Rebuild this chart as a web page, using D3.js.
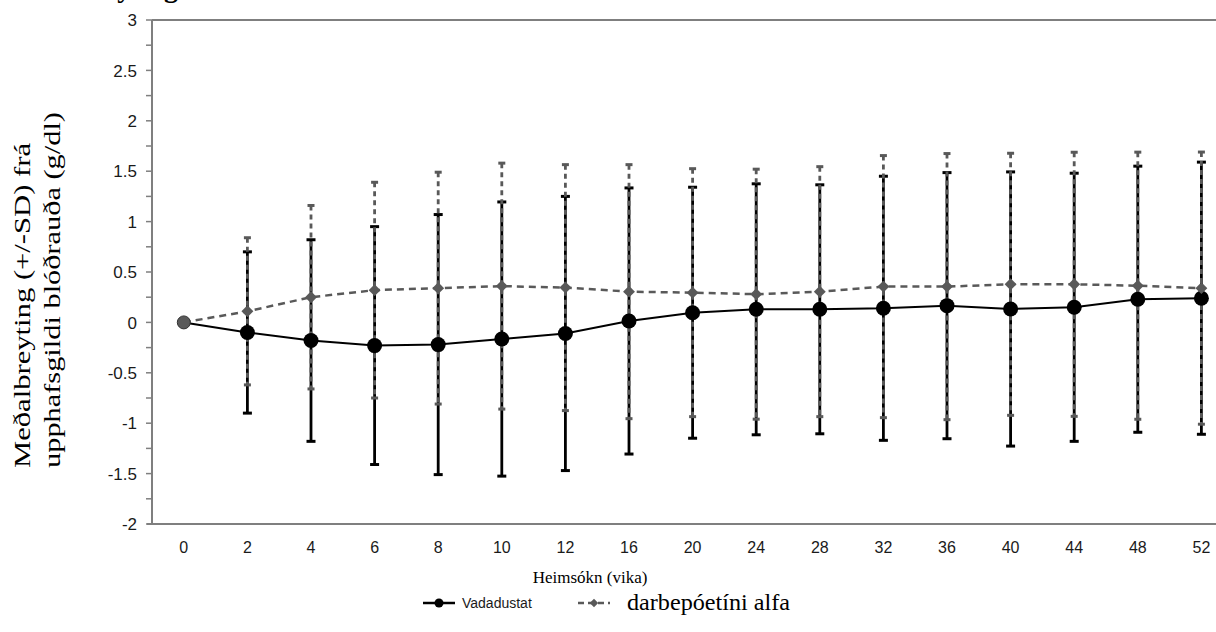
<!DOCTYPE html>
<html>
<head>
<meta charset="utf-8">
<script src="https://cdn.jsdelivr.net/npm/d3@7"></script>
<style>
  html, body { margin: 0; padding: 0; background: #fff; overflow: hidden; }
  svg { display: block; }
</style>
</head>
<body>
<svg id="chart" width="1216" height="632"></svg>
<script>
// visits (weeks)
const weeks = ['0', '2', '4', '6', '8', '10', '12', '16', '20', '24', '28', '32', '36', '40', '44', '48', '52']

// mean change and SD, vadadustat
const vadaMean = [0, -0.10, -0.18, -0.23, -0.22, -0.165, -0.11, 0.014, 0.096, 0.13, 0.13, 0.14, 0.166, 0.133, 0.15, 0.23, 0.24]
const vadaSD   = [0, 0.80, 1.00, 1.18, 1.29, 1.36, 1.36, 1.32, 1.245, 1.245, 1.235, 1.31, 1.32, 1.36, 1.33, 1.32, 1.35]

// mean change and SD, darbepoetin alfa
const darbMean = [0, 0.11, 0.25, 0.32, 0.34, 0.36, 0.345, 0.305, 0.295, 0.28, 0.305, 0.355, 0.355, 0.378, 0.378, 0.364, 0.34]
const darbSD   = [0, 0.73, 0.91, 1.07, 1.15, 1.22, 1.22, 1.26, 1.23, 1.24, 1.24, 1.30, 1.32, 1.30, 1.31, 1.325, 1.35]

const yTicks = [-2, -1.5, -1, -0.5, 0, 0.5, 1, 1.5, 2, 2.5, 3]
const yMinor = d3.range(-1.75, 3, 0.5)

const BLACK = '#000'
const GREY = '#595959'
const AXIS = '#7f7f7f'
const SERIF = 'Liberation Serif, Times New Roman, serif'
const SANS = 'Liberation Sans, Arial, sans-serif'

const svg = d3.select('#chart')

const x = d3.scaleBand()
  .domain(weeks)
  .range([152, 152 + 17 * 63.6])
const cx = (w) => x(w) + x.bandwidth() / 2

const y = d3.scaleLinear()
  .domain([-2, 3])
  .range([524, 20])

const rows = (mean, sd) => weeks.map((w, i) => ({ w: w, m: mean[i], sd: sd[i] }))
const vada = rows(vadaMean, vadaSD)
const darb = rows(darbMean, darbSD)

// title, cut off by the top edge as in the source picture
svg.append('text')
  .attr('x', 178).attr('y', -3)
  .attr('text-anchor', 'end')
  .attr('font-family', SERIF)
  .attr('font-weight', 'bold')
  .attr('font-size', 28)
  .text('Meðalbreyting')

// frame: top line + axes
svg.append('line')
  .attr('x1', 152).attr('x2', 1216).attr('y1', y(3)).attr('y2', y(3))
  .attr('stroke', AXIS).attr('stroke-width', 2)

svg.append('line')
  .attr('x1', 147).attr('x2', 1216).attr('y1', y(-2)).attr('y2', y(-2))
  .attr('stroke', AXIS).attr('stroke-width', 2)

svg.append('line')
  .attr('x1', 152).attr('x2', 152).attr('y1', y(3)).attr('y2', y(-2))
  .attr('stroke', AXIS).attr('stroke-width', 2)

// y ticks
let yAxis = svg.append('g').attr('font-family', SANS).attr('font-size', 17)
yTicks.concat(yMinor).forEach((t) => {
  yAxis.append('line')
    .attr('x1', 146).attr('x2', 152).attr('y1', y(t)).attr('y2', y(t))
    .attr('stroke', AXIS).attr('stroke-width', 1.5)
})
yTicks.forEach((t) => {
  yAxis.append('text')
    .attr('x', 137).attr('y', y(t)).attr('dy', '0.36em')
    .attr('text-anchor', 'end').attr('fill', '#1a1a1a')
    .text(t)
})

// x tick labels
svg.append('g').attr('font-family', SANS).attr('font-size', 16)
  .selectAll('text').data(weeks).enter().append('text')
  .attr('x', (d) => cx(d)).attr('y', 553)
  .attr('text-anchor', 'middle').attr('fill', '#1a1a1a')
  .text((d) => d)

// axis titles
svg.append('text')
  .attr('x', 590).attr('y', 583)
  .attr('text-anchor', 'middle')
  .attr('font-family', SERIF)
  .attr('font-size', 17)
  .text('Heimsókn (vika)')

;[['Meðalbreyting (+/-SD) frá', 30, 325], ['upphafsgildi blóðrauða (g/dl)', 60, 356]].forEach((l) => {
  svg.append('text')
    .attr('transform', 'translate(' + l[1] + ',468) rotate(-90)')
    .attr('font-family', SERIF)
    .attr('font-size', 24)
    .attr('textLength', l[2])
    .attr('lengthAdjust', 'spacingAndGlyphs')
    .text(l[0])
})

// error bars
function errorBars(data, color, width, dash, capW) {
  let g = svg.append('g')
  let d = data.filter((r) => r.sd > 0)
  g.selectAll('line.bar').data(d).enter().append('line')
    .attr('x1', (r) => cx(r.w)).attr('x2', (r) => cx(r.w))
    .attr('y1', (r) => y(r.m + r.sd)).attr('y2', (r) => y(r.m - r.sd))
    .attr('stroke', color).attr('stroke-width', width)
    .attr('stroke-dasharray', dash)
  ;[1, -1].forEach((s) => {
    g.selectAll('line.cap' + s).data(d).enter().append('line')
      .attr('x1', (r) => cx(r.w) - capW / 2).attr('x2', (r) => cx(r.w) + capW / 2)
      .attr('y1', (r) => y(r.m + s * r.sd)).attr('y2', (r) => y(r.m + s * r.sd))
      .attr('stroke', color).attr('stroke-width', 3)
  })
}
errorBars(vada, BLACK, 2.8, null, 9)
errorBars(darb, GREY, 2.8, '5,4', 7)

// mean lines
const line = d3.line().x((r) => cx(r.w)).y((r) => y(r.m))

svg.append('path').datum(darb)
  .attr('d', line).attr('fill', 'none')
  .attr('stroke', GREY).attr('stroke-width', 2.5).attr('stroke-dasharray', '7,5')

svg.append('path').datum(vada)
  .attr('d', line).attr('fill', 'none')
  .attr('stroke', BLACK).attr('stroke-width', 2)

// markers
svg.append('g').selectAll('circle').data(vada.slice(1)).enter().append('circle')
  .attr('cx', (r) => cx(r.w)).attr('cy', (r) => y(r.m)).attr('r', 7.5)
  .attr('fill', BLACK)

const diamond = d3.symbol().type(d3.symbolDiamond2).size(90)
svg.append('g').selectAll('path').data(darb.slice(1)).enter().append('path')
  .attr('transform', (r) => 'translate(' + cx(r.w) + ',' + y(r.m) + ')')
  .attr('d', diamond).attr('fill', GREY)

// baseline point (both groups at 0)
svg.append('circle')
  .attr('cx', cx('0')).attr('cy', y(0)).attr('r', 6.5)
  .attr('fill', GREY).attr('stroke', '#333').attr('stroke-width', 1)

// legend
let lg = svg.append('g')
lg.append('line').attr('x1', 423).attr('x2', 455).attr('y1', 603).attr('y2', 603)
  .attr('stroke', BLACK).attr('stroke-width', 2.5)
lg.append('circle').attr('cx', 439).attr('cy', 603).attr('r', 4.5).attr('fill', BLACK)
lg.append('text').attr('x', 462).attr('y', 608)
  .attr('font-family', SANS).attr('font-size', 14)
  .attr('fill', '#1a1a1a').text('Vadadustat')

lg.append('line').attr('x1', 578).attr('x2', 610).attr('y1', 603).attr('y2', 603)
  .attr('stroke', GREY).attr('stroke-width', 2.5).attr('stroke-dasharray', '6,4')
lg.append('path').attr('transform', 'translate(594,603)')
  .attr('d', d3.symbol().type(d3.symbolDiamond2).size(45)).attr('fill', GREY)
lg.append('text').attr('x', 627).attr('y', 610)
  .attr('font-family', SERIF).attr('font-size', 23)
  .attr('textLength', 163).attr('lengthAdjust', 'spacingAndGlyphs')
  .text('darbepóetíni alfa')
</script>
</body>
</html>
